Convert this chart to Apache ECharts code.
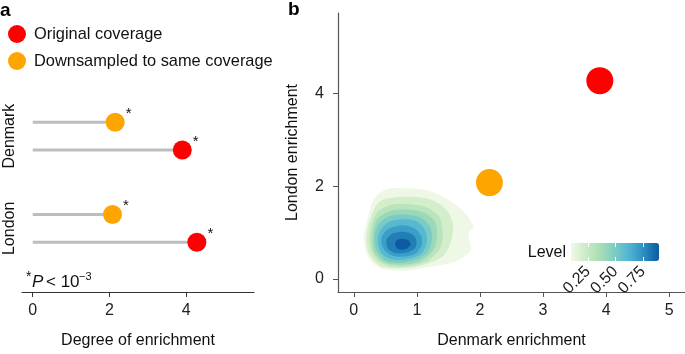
<!DOCTYPE html>
<html>
<head>
<meta charset="utf-8">
<script src="https://cdn.jsdelivr.net/npm/echarts@6/dist/echarts.min.js"></script>
<style>
  html, body { margin: 0; padding: 0; background: #fff; }
  #main { width: 685px; height: 354px; }
</style>
</head>
<body>
<div id="main"></div>
<script>
// enrichment per region: [Denmark, London]
var regions = ['Denmark', 'London'];
var originalEnrich = [3.9, 4.28];
var downsampledEnrich = [2.15, 2.08];

// panel a / b tick labels
var enrichTicks = [0, 2, 4];
var denmarkTicks = [0, 1, 2, 3, 4, 5];
var londonTicks = [0, 2, 4];

// 2D density contours (Denmark x, London y), outer level first
var contourLevels = [0.1, 0.2, 0.3, 0.4, 0.5, 0.6, 0.7, 0.8, 0.9];
var contourShapes = [
  [[0.55,1.95],[1.05,1.94],[1.35,1.82],[1.6,1.62],[1.78,1.4],[1.9,1.12],[1.82,1.0],[1.85,0.62],[1.62,0.38],[1.2,0.26],[0.8,0.18],[0.45,0.22],[0.25,0.42],[0.16,0.85],[0.22,1.3],[0.33,1.75]],
  [[0.85,1.78],[1.2,1.72],[1.45,1.52],[1.57,1.2],[1.55,0.85],[1.42,0.5],[1.1,0.3],[0.75,0.23],[0.42,0.28],[0.24,0.55],[0.2,0.9],[0.26,1.3],[0.42,1.68]],
  [[0.85,1.62],[1.15,1.55],[1.35,1.35],[1.41,1.05],[1.38,0.7],[1.2,0.42],[0.9,0.28],[0.6,0.28],[0.38,0.4],[0.26,0.7],[0.27,1.1],[0.38,1.45],[0.6,1.6]],
  [[0.82,1.5],[1.1,1.44],[1.28,1.25],[1.32,0.95],[1.26,0.62],[1.05,0.38],[0.75,0.31],[0.48,0.36],[0.32,0.6],[0.3,0.95],[0.37,1.3],[0.58,1.47]],
  [[0.8,1.39],[1.05,1.33],[1.2,1.15],[1.24,0.9],[1.18,0.6],[1.0,0.42],[0.75,0.35],[0.5,0.4],[0.36,0.62],[0.33,0.92],[0.4,1.2],[0.58,1.36]],
  [[0.78,1.29],[1.0,1.24],[1.13,1.05],[1.16,0.82],[1.08,0.56],[0.88,0.44],[0.62,0.42],[0.45,0.54],[0.38,0.78],[0.42,1.05],[0.57,1.24]],
  [[0.77,1.16],[0.95,1.1],[1.06,0.95],[1.08,0.75],[0.98,0.55],[0.78,0.48],[0.58,0.52],[0.46,0.68],[0.44,0.9],[0.55,1.08]],
  [[0.75,1.02],[0.9,0.98],[0.99,0.85],[0.97,0.67],[0.84,0.57],[0.66,0.56],[0.54,0.66],[0.52,0.84],[0.6,0.97]],
  [[0.75,0.87],[0.86,0.84],[0.9,0.75],[0.84,0.66],[0.72,0.64],[0.66,0.72],[0.67,0.82]]
];
var levelTicks = [0.25, 0.5, 0.75];

var FONT = '"Liberation Sans", Arial, Helvetica, sans-serif';
var RED = '#ff0000', ORANGE = '#ffa500';
var dodge = 0.15;

var chart = echarts.init(document.getElementById('main'));

var downRows = regions.map(function (r, i) { return [downsampledEnrich[i], i + 1 - dodge]; });
var origRows = regions.map(function (r, i) { return [originalEnrich[i], i + 1 + dodge]; });

var starLabel = {
  show: true,
  formatter: '*',
  position: [23, 1],
  align: 'center',
  verticalAlign: 'middle',
  fontSize: 15,
  color: '#111'
};

chart.setOption({
  animation: false,
  textStyle: { fontFamily: FONT },
  legend: {
    data: ['Original coverage', 'Downsampled to same coverage'],
    orient: 'vertical',
    left: 8,
    top: 25,
    padding: 0,
    itemWidth: 18,
    itemHeight: 18,
    itemGap: 9,
    icon: 'circle',
    selectedMode: false,
    textStyle: { fontSize: 16.4, color: '#111', padding: [0, 0, 0, 3] }
  },
  grid: [
    { left: 22, width: 232, top: 90, bottom: 58 },
    { left: 338, right: 0, top: 13, bottom: 58 },
    { left: 571, width: 88, top: 243, height: 18 }
  ],
  xAxis: [
    {
      gridIndex: 0, type: 'value', min: -0.28, max: 5.77,
      name: 'Degree of enrichment', nameLocation: 'middle', nameGap: 41,
      nameTextStyle: { fontSize: 16, color: '#111' },
      axisLine: { onZero: false, lineStyle: { color: '#333', width: 1.2 } },
      axisTick: { customValues: enrichTicks, length: 5, lineStyle: { color: '#333' } },
      axisLabel: { customValues: enrichTicks, fontSize: 16, color: '#222', margin: 11 },
      splitLine: { show: false }
    },
    {
      gridIndex: 1, type: 'value', min: -0.25, max: 5.25,
      name: 'Denmark enrichment', nameLocation: 'middle', nameGap: 41,
      nameTextStyle: { fontSize: 16, color: '#111' },
      axisLine: { onZero: false, lineStyle: { color: '#555', width: 1.2 } },
      axisTick: { customValues: denmarkTicks, length: 5, lineStyle: { color: '#555' } },
      axisLabel: { customValues: denmarkTicks, fontSize: 16, color: '#222', margin: 11 },
      splitLine: { show: false }
    },
    {
      gridIndex: 2, type: 'value', min: 0.095, max: 0.896,
      axisLine: { show: false },
      axisTick: { customValues: levelTicks, inside: true, length: 4, lineStyle: { color: '#fff', width: 1 } },
      axisLabel: {
        customValues: levelTicks, rotate: 45, fontSize: 16, color: '#222', margin: 8,
        formatter: function (v) { return v.toFixed(2); }
      },
      splitLine: { show: false },
      z: 10
    },
    {
      gridIndex: 2, type: 'value', position: 'top', min: 0.095, max: 0.896,
      axisLine: { show: false },
      axisTick: { customValues: levelTicks, inside: true, length: 4, lineStyle: { color: '#fff', width: 1 } },
      axisLabel: { show: false },
      splitLine: { show: false },
      z: 10
    }
  ],
  yAxis: [
    {
      gridIndex: 0, type: 'value', min: 0.5, max: 2.69, inverse: true,
      axisLine: { show: false },
      axisTick: { show: false },
      axisLabel: {
        customValues: [1, 2], rotate: 90, fontSize: 16, color: '#111', margin: 4,
        formatter: function (v) { return regions[Math.round(v) - 1]; }
      },
      splitLine: { show: false }
    },
    {
      gridIndex: 1, type: 'value', min: -0.28, max: 5.74,
      name: 'London enrichment', nameLocation: 'middle', nameGap: 37,
      nameTextStyle: { fontSize: 16, color: '#111' },
      axisLine: { onZero: false, lineStyle: { color: '#555', width: 1.2 } },
      axisTick: { customValues: londonTicks, length: 5, lineStyle: { color: '#555' } },
      axisLabel: { customValues: londonTicks, fontSize: 16, color: '#222', margin: 14 },
      splitLine: { show: false }
    },
    { gridIndex: 2, type: 'value', min: 0, max: 1, show: false }
  ],
  visualMap: {
    type: 'continuous',
    seriesIndex: 0,
    dimension: 2,
    min: 0.095,
    max: 0.896,
    orient: 'horizontal',
    left: 556,
    top: 228,
    itemWidth: 18,
    itemHeight: 88,
    calculable: false,
    text: null,
    z: 1,
    inRange: { color: ['#f0f9e8', '#ccebc5', '#a8ddb5', '#7bccc4', '#4eb3d3', '#2b8cbe', '#0b5aa2'] }
  },
  graphic: [
    { type: 'text', left: 0, top: 1, style: { text: 'a', font: 'bold 19px ' + FONT, fill: '#000' } },
    { type: 'text', left: 288, top: 0, style: { text: 'b', font: 'bold 19px ' + FONT, fill: '#000' } },
    { type: 'text', x: 566, y: 253, style: { text: 'Level', font: '16px ' + FONT, fill: '#111', align: 'right', verticalAlign: 'middle' } },
    { type: 'text', x: 26, y: 270, style: { text: '*', font: '14px ' + FONT, fill: '#111' } },
    { type: 'text', x: 32, y: 274, style: { text: 'P', font: 'italic 17px ' + FONT, fill: '#111' } },
    { type: 'text', x: 46, y: 274, style: { text: '< 10', font: '17px ' + FONT, fill: '#111' } },
    { type: 'text', x: 79, y: 271, style: { text: '\u22123', font: '11px ' + FONT, fill: '#111' } }
  ],
  series: [
    {
      type: 'custom',
      name: 'density',
      xAxisIndex: 1, yAxisIndex: 1,
      encode: { x: 0, y: 1 },
      silent: true,
      data: contourLevels.map(function (lv, i) { return [0, 0, lv, i]; }),
      renderItem: function (params, api) {
        var shape = contourShapes[api.value(3)];
        var pts = shape.map(function (p) { return api.coord(p); });
        return {
          type: 'polygon',
          shape: { points: pts, smooth: 0.3 },
          style: { fill: api.visual('color'), stroke: null }
        };
      }
    },
    {
      type: 'custom',
      name: 'stems',
      xAxisIndex: 0, yAxisIndex: 0,
      silent: true,
      data: downRows.concat(origRows),
      renderItem: function (params, api) {
        var p0 = api.coord([0, api.value(1)]);
        var p1 = api.coord([api.value(0), api.value(1)]);
        return {
          type: 'line',
          shape: { x1: p0[0], y1: p0[1], x2: p1[0], y2: p1[1] },
          style: { stroke: '#bdbdbd', lineWidth: 3 }
        };
      }
    },
    {
      type: 'scatter', name: 'Original coverage',
      xAxisIndex: 0, yAxisIndex: 0,
      symbolSize: 19, itemStyle: { color: RED, opacity: 1 },
      label: starLabel,
      data: origRows
    },
    {
      type: 'scatter', name: 'Downsampled to same coverage',
      xAxisIndex: 0, yAxisIndex: 0,
      symbolSize: 19, itemStyle: { color: ORANGE, opacity: 1 },
      label: starLabel,
      data: downRows
    },
    {
      type: 'scatter', name: 'Original coverage',
      xAxisIndex: 1, yAxisIndex: 1,
      symbolSize: 27, itemStyle: { color: RED, opacity: 1 },
      data: [[originalEnrich[0], originalEnrich[1]]]
    },
    {
      type: 'scatter', name: 'Downsampled to same coverage',
      xAxisIndex: 1, yAxisIndex: 1,
      symbolSize: 27, itemStyle: { color: ORANGE, opacity: 1 },
      data: [[downsampledEnrich[0], downsampledEnrich[1]]]
    }
  ]
});
</script>
</body>
</html>
